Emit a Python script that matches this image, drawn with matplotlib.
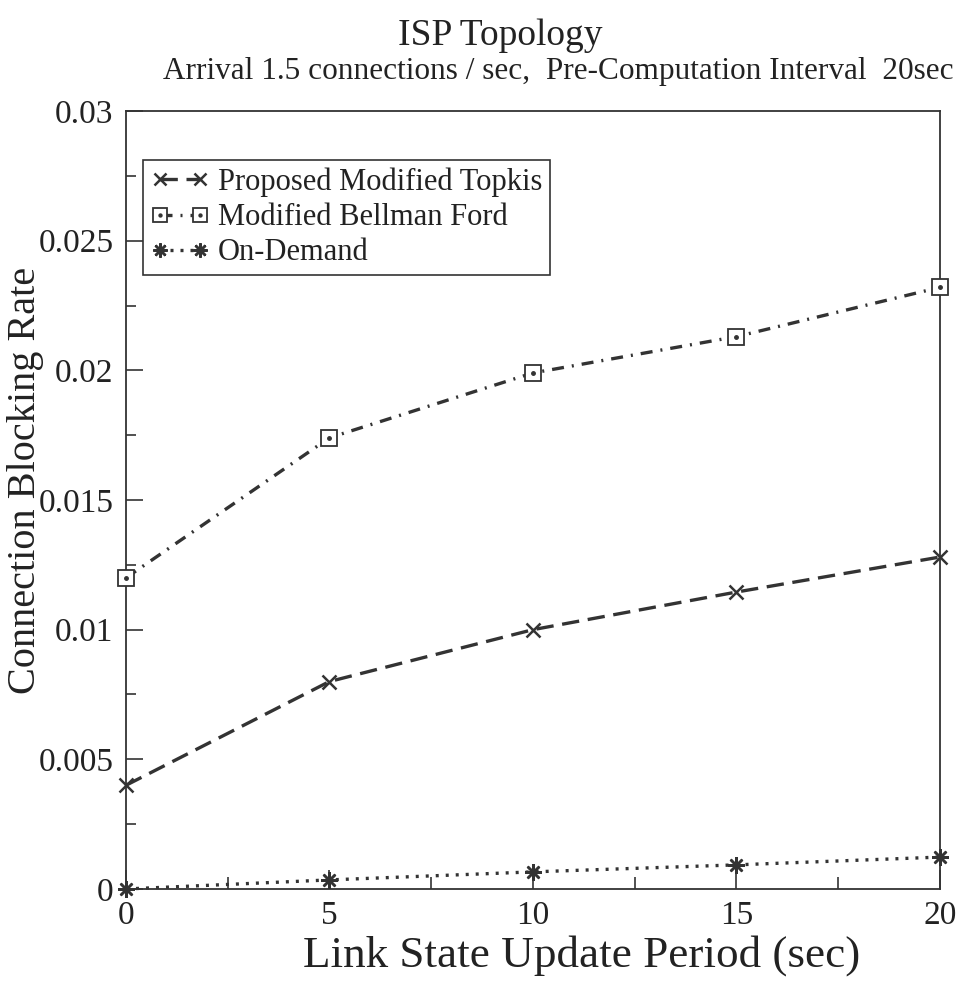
import matplotlib
matplotlib.use("Agg")
import matplotlib.pyplot as plt
from matplotlib.ticker import MultipleLocator, FixedLocator, FixedFormatter

plt.rcParams['font.family'] = ['Liberation Serif', 'DejaVu Serif']

# Link state update period (sec)
update_period = [0, 5, 10, 15, 20]

# Connection blocking rate per algorithm
topkis = [0.0040, 0.0080, 0.0100, 0.01145, 0.0128]
bellman_ford = [0.0120, 0.0174, 0.0199, 0.0213, 0.0232]
on_demand = [0.0000, 0.00035, 0.00066, 0.00093, 0.00123]

series_labels = ["Proposed Modified Topkis", "Modified Bellman Ford", "On-Demand"]
y_tick_values = [0, 0.005, 0.01, 0.015, 0.02, 0.025, 0.03]
y_tick_labels = ["0", "0.005", "0.01", "0.015", "0.02", "0.025", "0.03"]
x_tick_values = [0, 5, 10, 15, 20]
x_tick_labels = ["0", "5", "10", "15", "20"]

ink = "#333333"
text_ink = "#222222"

fig = plt.figure(figsize=(9.62, 9.86), dpi=100)
ax = fig.add_axes([0.131, 0.0984, 0.846, 0.7890])

lw = 2.4
l1, = ax.plot(update_period, topkis, color=ink, lw=lw, dashes=(5.2, 2.6),
              marker='x', ms=10, mew=1.8, clip_on=False, zorder=3)
l2, = ax.plot(update_period, bellman_ford, color=ink, lw=lw, dashes=(3.6, 2.4, 0.6, 2.4),
              marker='s', ms=11.5, mew=1.3, mfc='white', mec=ink, clip_on=False, zorder=3)
l2c, = ax.plot(update_period, bellman_ford, ls='none', marker='o', ms=2.5,
               color=ink, clip_on=False, zorder=4)
l3, = ax.plot(update_period, on_demand, color=ink, lw=lw, dashes=(0.9, 2.1),
              marker=(8, 2, 0), ms=12, mew=1.8, clip_on=False, zorder=3)

ax.set_xlim(0, 20)
ax.set_ylim(0, 0.03)

ax.xaxis.set_major_locator(FixedLocator(x_tick_values))
ax.xaxis.set_major_formatter(FixedFormatter(x_tick_labels))
ax.xaxis.set_minor_locator(MultipleLocator(2.5))
ax.yaxis.set_major_locator(FixedLocator(y_tick_values))
ax.yaxis.set_major_formatter(FixedFormatter(y_tick_labels))
ax.yaxis.set_minor_locator(MultipleLocator(0.0025))

ax.tick_params(axis='both', which='both', direction='in', colors=ink,
               top=False, right=False, labelsize=24)
ax.tick_params(axis='x', which='major', length=14, width=1.2, pad=8)
ax.tick_params(axis='x', which='minor', length=9, width=1.2)
ax.tick_params(axis='y', which='major', length=12, width=1.2, pad=9)
ax.tick_params(axis='y', which='minor', length=7, width=1.2)
for lab in ax.get_xticklabels() + ax.get_yticklabels():
    lab.set_color(text_ink)

for sp in ax.spines.values():
    sp.set_color(ink)
    sp.set_linewidth(1.3)

fig.text(0.605, 0.031, "Link State Update Period (sec)", ha='center', va='center',
         fontsize=32.5, color=text_ink)
fig.text(0.026, 0.513, "Connection Blocking Rate", rotation=90, ha='center', va='center',
         fontsize=29, color=text_ink)

leg = ax.legend([l1, (l2, l2c), l3], series_labels, loc='upper left',
                bbox_to_anchor=(0.021, 0.937), fontsize=22, numpoints=2,
                handlelength=1.9, handletextpad=0.3, borderpad=0.25,
                labelspacing=0.2, borderaxespad=0.0, fancybox=False,
                markerscale=0.85, frameon=True, framealpha=1.0)
leg.get_frame().set_edgecolor(ink)
leg.get_frame().set_linewidth(1.2)
for t in leg.get_texts():
    t.set_color(text_ink)

fig.text(0.52, 0.964, "ISP Topology", ha='center', va='center', fontsize=27, color=text_ink)
fig.text(0.58, 0.927, "Arrival 1.5 connections / sec,  Pre-Computation Interval  20sec",
         ha='center', va='center', fontsize=22.5, color=text_ink)

fig.savefig("out.png", dpi=100)
